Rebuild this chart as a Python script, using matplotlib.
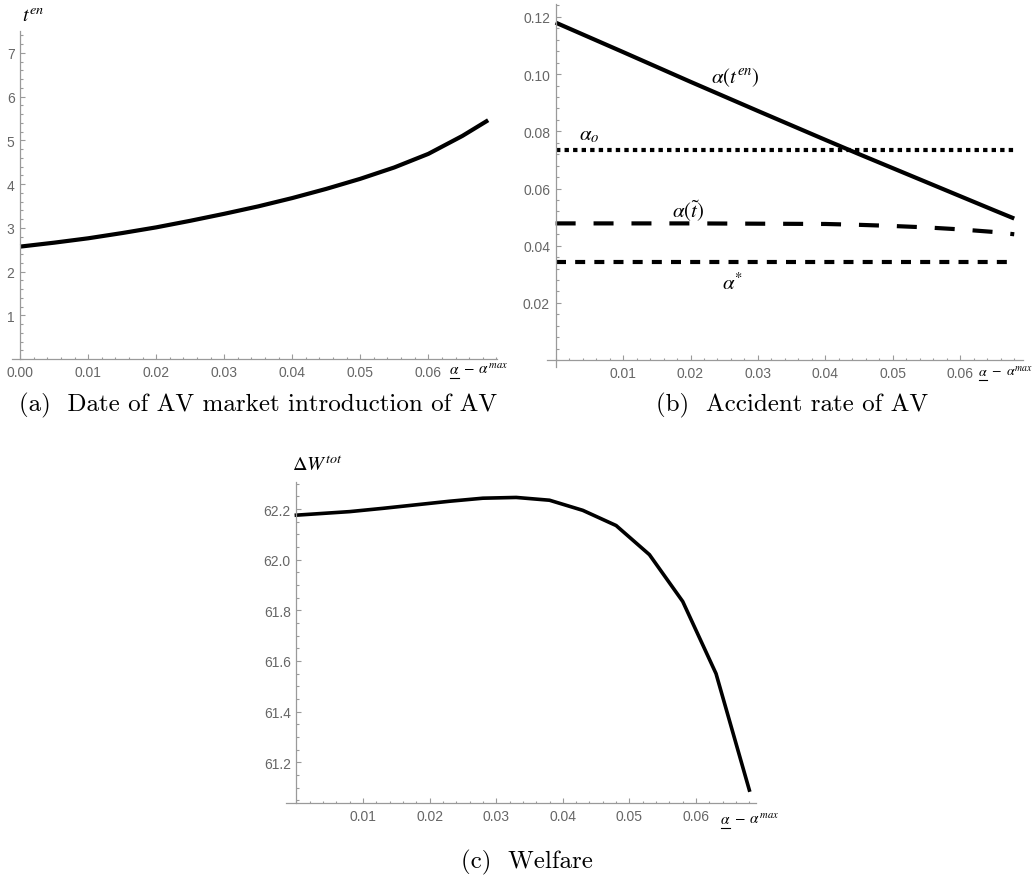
import matplotlib
matplotlib.use("Agg")
import matplotlib.pyplot as plt
from matplotlib.lines import Line2D
from matplotlib.ticker import MultipleLocator, FormatStrFormatter, FixedLocator

plt.rcParams['mathtext.fontset'] = 'stix'

W, H = 1032, 878

# (a) date of market introduction
a_x = [0.000, 0.005, 0.010, 0.015, 0.020, 0.025, 0.030, 0.035,
       0.040, 0.045, 0.050, 0.055, 0.060, 0.065, 0.0688]
a_t = [2.57, 2.66, 2.76, 2.88, 3.01, 3.16, 3.32, 3.49,
       3.68, 3.89, 4.12, 4.38, 4.69, 5.10, 5.46]

# (b) accident rates
b_x = [0.0, 0.01, 0.02, 0.03, 0.04, 0.045, 0.05, 0.055, 0.06, 0.065, 0.068]
b_alpha_ten = [0.118, 0.1077, 0.0973, 0.0871, 0.0770, 0.0720, 0.0671,
               0.0622, 0.0573, 0.0524, 0.0495]
b_alpha_tilde = [0.0478, 0.0478, 0.0478, 0.0477, 0.0476, 0.0473, 0.0469,
                 0.0464, 0.0457, 0.0448, 0.0440]
b_alpha_o = 0.0736
b_alpha_star = 0.0343

# (c) welfare
c_x = [0.0, 0.008, 0.013, 0.018, 0.023, 0.028, 0.033, 0.038,
       0.043, 0.048, 0.053, 0.058, 0.063, 0.068]
c_w = [62.176, 62.19, 62.203, 62.217, 62.231, 62.243, 62.246, 62.235,
       62.195, 62.135, 62.02, 61.835, 61.55, 61.09]

tick_font = 'Liberation Sans'
axis_col = '#9a9a9a'
label_col = '#666666'


def px_axes(fig, l, r, t, b):
    return fig.add_axes([l / W, 1 - b / H, (r - l) / W, (b - t) / H])


def style(ax, xmaj, ymaj, ymin_step, xfmt, yfmt, cross_x=True):
    for s in ['top', 'right']:
        ax.spines[s].set_visible(False)
    ax.spines['left'].set_position(('data', 0))
    if cross_x:
        ax.spines['bottom'].set_position(('data', 0))
    for s in ['left', 'bottom']:
        ax.spines[s].set_color(axis_col)
        ax.spines[s].set_linewidth(0.9)
    ax.xaxis.set_major_locator(FixedLocator(xmaj))
    ax.xaxis.set_minor_locator(MultipleLocator(0.002))
    ax.yaxis.set_major_locator(FixedLocator(ymaj))
    ax.yaxis.set_minor_locator(MultipleLocator(ymin_step))
    ax.xaxis.set_major_formatter(FormatStrFormatter(xfmt))
    ax.yaxis.set_major_formatter(FormatStrFormatter(yfmt))
    ax.tick_params(which='both', direction='in', color=axis_col, width=0.8,
                   labelcolor=label_col, labelsize=10)
    ax.tick_params(which='major', length=3.5, pad=4)
    ax.tick_params(which='minor', length=1.8)
    for lab in ax.get_xticklabels() + ax.get_yticklabels():
        lab.set_family(tick_font)
    ax.patch.set_alpha(0)


def x_label(fig, px, py, size=11):
    # underlined alpha followed by "- alpha^max"
    t1 = fig.text(px / W, 1 - py / H, r'$\alpha$', fontsize=size,
                  va='baseline')
    r = fig.canvas.get_renderer()
    bb = t1.get_window_extent(r)
    fig.add_artist(Line2D([bb.x0 + 0.5, bb.x1 - 0.5], [bb.y0 - 1.5, bb.y0 - 1.5],
                          transform=None, color='black', lw=0.8))
    fig.text((bb.x1 - 1) / W, 1 - py / H, r'$\;-\;\alpha^{max}$',
             fontsize=size, va='baseline')


fig = plt.figure(figsize=(W / 100, H / 100), dpi=100)

# panel (a)
ax1 = px_axes(fig, 12, 497, 32, 360)
ax1.plot(a_x, a_t, color='black', lw=3.0, solid_capstyle='butt')
ax1.set_xlim(-0.0012, 0.0701)
ax1.set_ylim(0, 7.5)
style(ax1, [0, 0.01, 0.02, 0.03, 0.04, 0.05, 0.06], range(1, 8), 0.2,
      '%.2f', '%d')
fig.text(22 / W, 1 - 17 / H, r'$t^{en}$', fontsize=14.5, va='center')
x_label(fig, 449, 374)
fig.text(258 / W, 1 - 405 / H, '(a)  Date of AV market introduction of AV',
         family='cmr10', fontsize=18, ha='center', va='center')

# panel (b)
ax2 = px_axes(fig, 547, 1023, 5, 368)
ax2.plot(b_x, b_alpha_ten, color='black', lw=3.0, solid_capstyle='butt')
ax2.plot([b_x[0], b_x[-1]], [b_alpha_o, b_alpha_o], color='black', lw=3.0,
         linestyle=(0, (1.05, 1.0)), dash_capstyle='butt')
ax2.plot(b_x, b_alpha_tilde, color='black', lw=3.0,
         linestyle=(0, (4.8, 4.3)), dash_capstyle='butt')
ax2.plot([b_x[0], b_x[-1]], [b_alpha_star, b_alpha_star], color='black',
         lw=3.0, linestyle=(0, (2.4, 2.2)), dash_capstyle='butt')
ax2.set_xlim(-0.00128, 0.0693)
ax2.set_ylim(-0.0024, 0.1245)
style(ax2, [0.01, 0.02, 0.03, 0.04, 0.05, 0.06],
      [0.02, 0.04, 0.06, 0.08, 0.10, 0.12], 0.004, '%.2f', '%.2f')
ax2.text(0.0266, 0.099, r'$\alpha\left(t^{en}\right)$', fontsize=15,
         ha='center', va='center')
ax2.text(0.005, 0.0789, r'$\alpha_{o}$', fontsize=15, ha='center', va='center')
ax2.text(0.0196, 0.0527, r'$\alpha\left(\tilde{t}\right)$', fontsize=15,
         ha='center', va='center')
ax2.text(0.0263, 0.0272, r'$\alpha^{*}$', fontsize=15, ha='center',
         va='center')
x_label(fig, 978, 376, size=10)
fig.text(792 / W, 1 - 405 / H, '(b)  Accident rate of AV',
         family='cmr10', fontsize=18, ha='center', va='center')

# panel (c)
ax3 = px_axes(fig, 286, 756, 483, 804)
ax3.plot(c_x, c_w, color='black', lw=2.6, solid_joinstyle='miter')
ax3.set_xlim(-0.00156, 0.0690)
ax3.set_ylim(61.039, 62.307)
style(ax3, [0.01, 0.02, 0.03, 0.04, 0.05, 0.06],
      [61.2, 61.4, 61.6, 61.8, 62.0, 62.2], 0.05, '%.2f', '%.1f',
      cross_x=False)
fig.text(292 / W, 1 - 465 / H, r'$\Delta W^{tot}$', fontsize=14.5,
         va='center')
x_label(fig, 720, 824)
fig.text(527 / W, 1 - 862 / H, '(c)  Welfare',
         family='cmr10', fontsize=18, ha='center', va='center')

fig.savefig('out.png', dpi=100)
